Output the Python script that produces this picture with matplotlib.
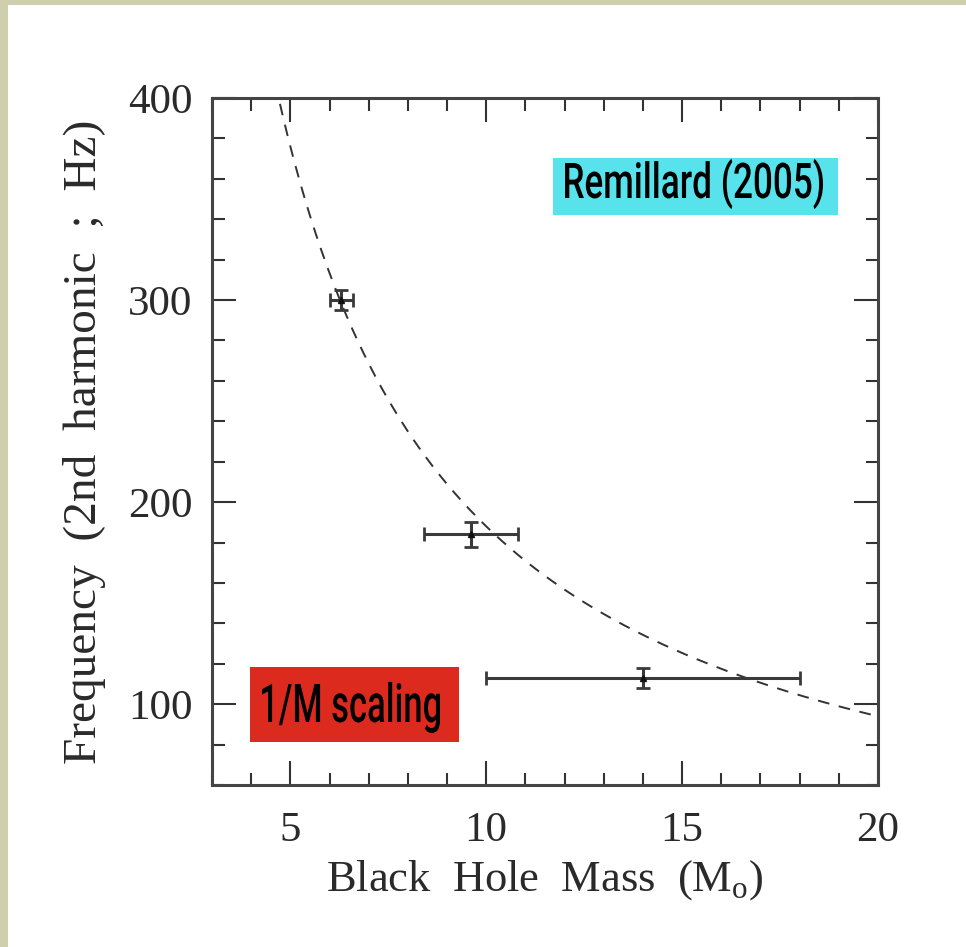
import numpy as np
import matplotlib.pyplot as plt
from matplotlib.patches import Rectangle, PathPatch
from matplotlib.textpath import TextPath
from matplotlib.font_manager import FontProperties
from matplotlib.transforms import Affine2D, IdentityTransform
from matplotlib.ticker import MultipleLocator

# measured black hole masses and 2nd harmonic HFQPO frequencies
mass = [6.3, 9.6, 14.0]
mass_err = [0.3, 1.2, 4.0]
freq = [300, 184, 113]
freq_err = [5, 6, 5]

# 1/M scaling: f = C / M
C = 1880.0

W, H = 966, 947
plt.rcParams['mathtext.fontset'] = 'custom'
plt.rcParams['mathtext.rm'] = 'Liberation Serif'

fig = plt.figure(figsize=(W / 100, H / 100), dpi=100)
fig.patch.set_facecolor('white')

# beige edge at left and top
fig.patches.append(Rectangle((0, 0), 8 / W, 1, transform=fig.transFigure,
                             facecolor='#cfcfae', edgecolor='none', zorder=-1))
fig.patches.append(Rectangle((0, 1 - 5 / H), 1, 5 / H, transform=fig.transFigure,
                             facecolor='#cfcfae', edgecolor='none', zorder=-1))

ax = fig.add_axes([212 / W, 1 - 785 / H, 666 / W, 687 / H])

m = np.linspace(4.5, 20, 300)
ax.plot(m, C / m, ls=(0, (6, 5)), color='#333333', lw=1.4)

ax.errorbar(mass, freq, xerr=mass_err, yerr=freq_err, fmt='^', ms=5,
            color='#111111', ecolor='#3a3a3a', elinewidth=2.2, capsize=5, capthick=2)

ax.set_xlim(3, 20)
ax.set_ylim(60, 400)
ax.xaxis.set_major_locator(MultipleLocator(5))
ax.xaxis.set_minor_locator(MultipleLocator(1))
ax.yaxis.set_major_locator(MultipleLocator(100))
ax.yaxis.set_minor_locator(MultipleLocator(20))

ax.tick_params(which='both', direction='in', top=True, right=True,
               colors='#333333', labelcolor='#2a2a2a')
ax.tick_params(which='major', length=17, width=1.5, labelsize=31)
ax.tick_params(axis='x', which='major', pad=19)
ax.tick_params(axis='y', which='major', pad=14)
ax.tick_params(which='minor', length=9, width=1.5)
for lab in ax.get_xticklabels() + ax.get_yticklabels():
    lab.set_family('Liberation Serif')
for s in ax.spines.values():
    s.set_linewidth(2.2)
    s.set_color('#444444')

ax.set_xlabel('Black  Hole  Mass  (M$_\\mathrm{o}$)', family='Liberation Serif',
              fontsize=32, color='#2a2a2a', labelpad=6)
ax.set_ylabel('Frequency  (2nd  harmonic  ;  Hz)', family='Liberation Serif',
              fontsize=34, color='#2a2a2a', labelpad=16)


def narrow_label(s, box, x0, base, width, cap, color):
    # box in pixels from top-left: (left, top, right, bottom)
    l, t, r, b = box
    fig.patches.append(Rectangle((l, H - b), r - l, b - t, transform=IdentityTransform(),
                                 facecolor=color, edgecolor='none', zorder=5))
    fp = FontProperties(family='Roboto', weight='medium')
    tp = TextPath((0, 0), s, size=100, prop=fp)
    ext = tp.get_extents()
    capp = TextPath((0, 0), 'M', size=100, prop=fp).get_extents().height
    sx = width / ext.width
    sy = cap / capp
    tr = Affine2D().translate(-ext.x0, 0).scale(sx, sy).translate(x0, H - base)
    fig.patches.append(PathPatch(tr.transform_path(tp), transform=IdentityTransform(),
                                 facecolor='black', edgecolor='none', zorder=6))


narrow_label('Remillard (2005)', (553, 158, 838, 215), 565, 198, 258, 35, '#58e2ec')
narrow_label('1/M scaling', (250, 667, 459, 742), 262, 722, 178, 38, '#dd2a1f')

fig.savefig('out.png', dpi=100, facecolor='white')
